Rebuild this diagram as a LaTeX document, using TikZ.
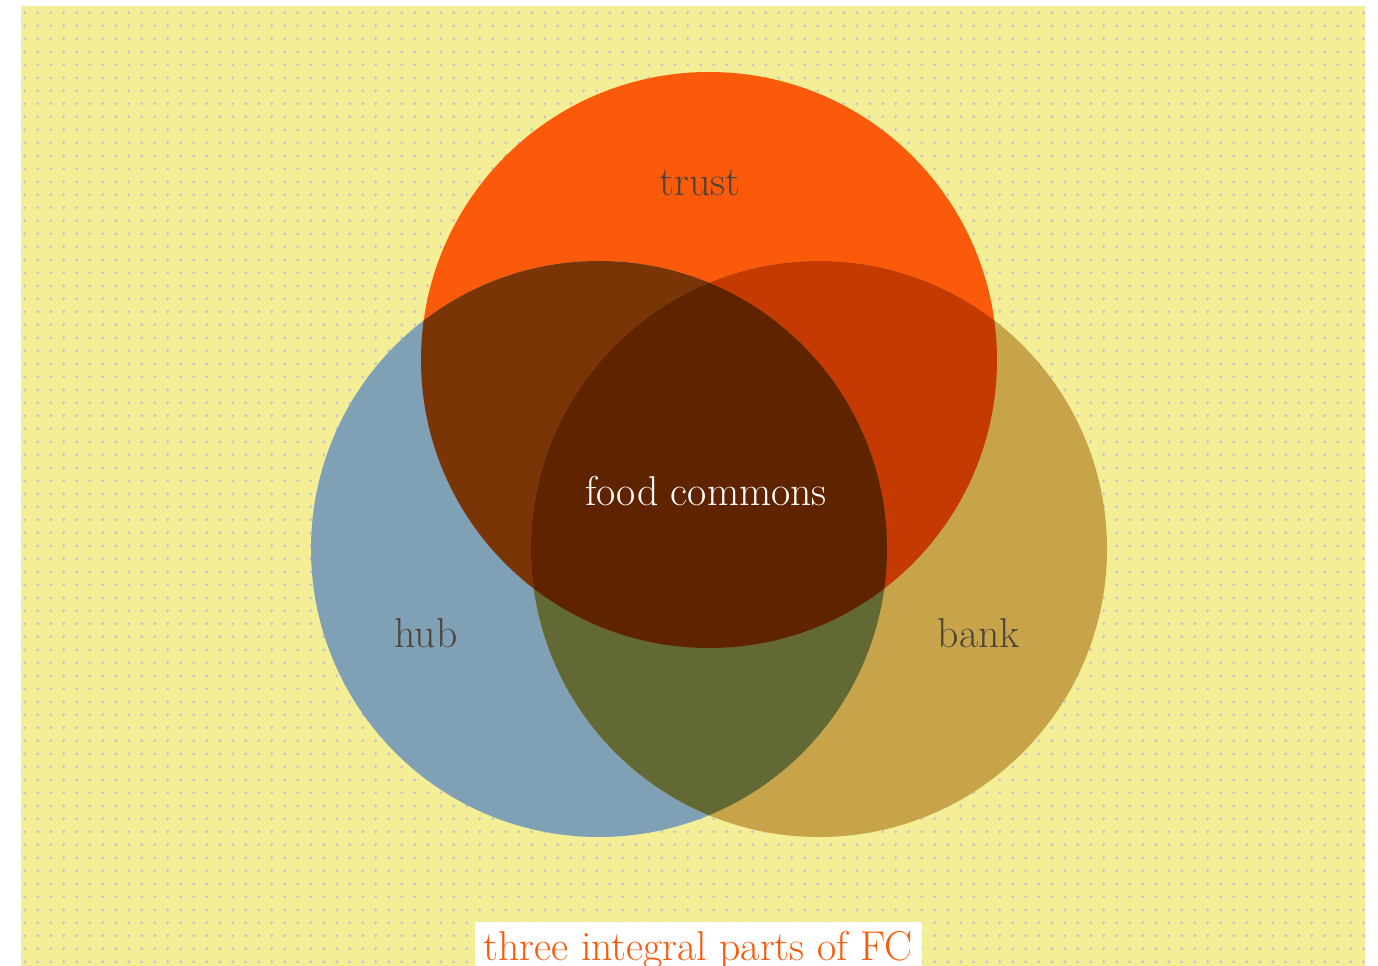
\documentclass[tikz,border=0pt]{standalone}
\definecolor{bgyellow}{HTML}{F4EE96}
\definecolor{dotgray}{HTML}{C6C6CA}
\definecolor{ctrust}{HTML}{FB5A0A}
\definecolor{chub}{HTML}{80A0B5}
\definecolor{cbank}{HTML}{C7A449}
\definecolor{ctrusthub}{HTML}{7A3506}
\definecolor{ctrustbank}{HTML}{C43A02}
\definecolor{chubbank}{HTML}{636935}
\definecolor{call}{HTML}{602300}
\definecolor{labelgray}{HTML}{4B443A}
\definecolor{captionorange}{HTML}{FB5A0A}
\begin{document}
\begin{tikzpicture}[x=0.75pt,y=-0.75pt,
  lbl/.style={font=\fontsize{31.3}{37}\selectfont, text=labelgray, anchor=base, inner sep=0pt},
  venn/.style={radius=216pt},
  dotrow/.style={draw=dotgray, line width=2.4pt, line cap=round, dash pattern=on 0pt off 9.75pt}]
\useasboundingbox (0,0) rectangle (1378,966);
% background
\fill[bgyellow] (21,6) rectangle (1365,966);
\begin{scope}
  \clip (21,6) rectangle (1365,966);
  \foreach \j in {0,...,73} {
    \pgfmathsetmacro\yy{12.7+13*\j}
    \path[dotrow] (24.7,\yy) -- (1368,\yy);
  }
\end{scope}
% circles
\coordinate (T) at (709,360);
\coordinate (H) at (599,549);
\coordinate (B) at (819,549);
\fill[ctrust] (T) circle[venn];
\fill[chub] (H) circle[venn];
\fill[cbank] (B) circle[venn];
\begin{scope}
  \clip (T) circle[venn];
  \fill[ctrusthub] (H) circle[venn];
\end{scope}
\begin{scope}
  \clip (T) circle[venn];
  \fill[ctrustbank] (B) circle[venn];
\end{scope}
\begin{scope}
  \clip (H) circle[venn];
  \fill[chubbank] (B) circle[venn];
\end{scope}
\begin{scope}
  \clip (H) circle[venn];
  \clip (B) circle[venn];
  \fill[call] (T) circle[venn];
\end{scope}
% labels
\node[lbl] (trust) at (700,196) {trust};
\node[lbl] (hub) at (426,647) {hub};
\node[lbl] (bank) at (979,647) {bank};
\node[lbl, text=white] (fc) at (706,505) {food commons};
% caption
\fill[white] (475,922) rectangle (922,980);
\node[lbl, text=captionorange] (caption) at (698,960) {three integral parts of FC};
\end{tikzpicture}
\end{document}
